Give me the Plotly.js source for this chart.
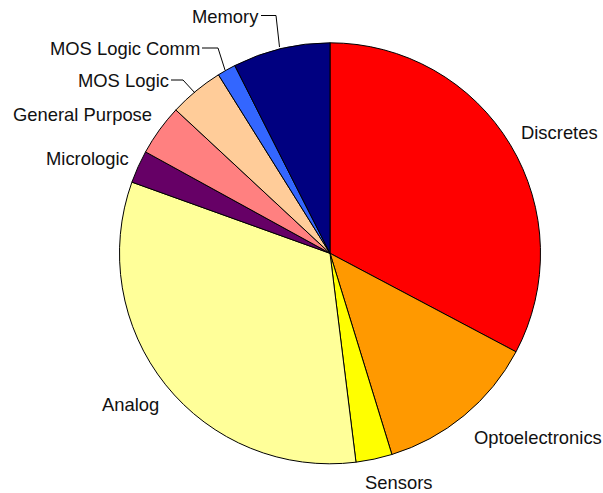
<!DOCTYPE html>
<html><head><meta charset="utf-8">
<script src="https://cdn.plot.ly/plotly-3.0.1.min.js"></script>
<style>html,body{margin:0;padding:0;background:#fff}#chart{width:603px;height:493px}</style>
</head><body><div id="chart"></div>
<script>
const categories = ["Discretes","Optoelectronics","Sensors","Analog","Micrologic","General Purpose","MOS Logic","MOS Logic Comm","Memory"];
const shares = [32.75, 12.5, 2.78, 32.46, 2.51, 3.92, 4.19, 1.42, 7.47];
const colors = ["#FF0000","#FF9900","#FFFF00","#FFFF99","#660066","#FF8080","#FFCC99","#3366FF","#000080"];

const W = 603, H = 493;
const px = x => x / W, py = y => 1 - y / H;

// label placement (pixel positions of text anchor)
const labelPos = [
  {x: 520, y: 132, a: "left"},
  {x: 473, y: 437, a: "left"},
  {x: 364, y: 482, a: "left"},
  {x: 160, y: 404, a: "right"},
  {x: 130, y: 158, a: "right"},
  {x: 153, y: 115, a: "right"},
  {x: 170, y: 80, a: "right"},
  {x: 201, y: 48, a: "right"},
  {x: 260, y: 16, a: "right"}
];
const leaders = [
  [[261,15.5],[276,15.5],[279.5,47]],
  [[202,48],[218,48],[225,70]],
  [[171,80],[183,80],[195,93]]
];

const annotations = categories.map((c, i) => ({
  text: c, xref: "paper", yref: "paper",
  x: px(labelPos[i].x), y: py(labelPos[i].y),
  xanchor: labelPos[i].a, yanchor: "middle", showarrow: false,
  borderpad: 0,
  font: {family: "Liberation Sans, Arial, sans-serif", size: 18.4, color: "#111"}
}));
const shapes = leaders.map(pts => ({
  type: "path", xref: "paper", yref: "paper",
  path: "M " + pts.map(p => px(p[0]) + "," + py(p[1])).join(" L "),
  line: {color: "#000", width: 1}
}));

const cx = 330, cy = 253.3, r = 210.5;
Plotly.newPlot("chart", [{
  type: "pie", labels: categories, values: shares,
  sort: false, direction: "clockwise", rotation: 0,
  marker: {colors: colors, line: {color: "#000", width: 1}},
  textinfo: "none", hoverinfo: "label+percent",
  domain: {x: [px(cx - r), px(cx + r)], y: [py(cy + r), py(cy - r)]}
}], {
  width: W, height: H, margin: {l: 0, r: 0, t: 0, b: 0},
  paper_bgcolor: "#fff", showlegend: false,
  annotations: annotations, shapes: shapes
}, {displayModeBar: false, staticPlot: true});
</script></body></html>
